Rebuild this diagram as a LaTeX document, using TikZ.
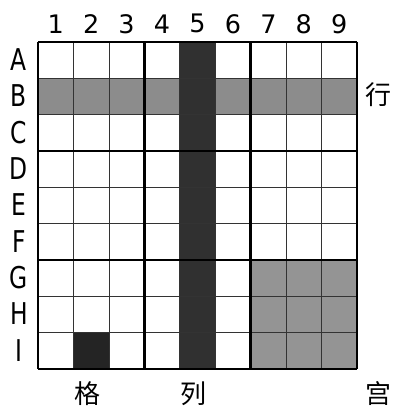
\documentclass[tikz,border=0pt]{standalone}
\usepackage{graphicx}
\usepackage{fontspec}
\setmainfont{DejaVu Sans}
\newfontfamily\cjk{Noto Sans CJK SC}
\definecolor{rowgray}{gray}{0.55}
\definecolor{boxgray}{gray}{0.58}
\definecolor{colgray}{gray}{0.19}
\definecolor{cellgray}{gray}{0.14}
\newcommand{\narrowletter}[1]{\scalebox{0.78}[1]{#1}}

\begin{document}
\begin{tikzpicture}[x=1pt,y=-1pt]
\useasboundingbox (0,0) rectangle (396,406);
\begin{scope}[shift={(38,42)},x=35.44pt,y=-36.33pt,
  thinline/.style={line width=0.7pt, black!80},
  boxline/.style={line width=2.6pt, black},
  headlabel/.style={inner sep=0pt, font=\fontsize{25.5}{25.5}\selectfont},
  rowlabel/.style={inner sep=0pt, font=\fontsize{30}{30}\selectfont},
  cjklabel/.style={inner sep=0pt, font=\cjk\fontsize{26}{26}\selectfont}]
% shaded regions
\fill[rowgray] (0,1) rectangle (9,2);
\fill[boxgray] (6,6) rectangle (9,9);
\fill[colgray] (4,0) rectangle (5,9);
\fill[cellgray] (1,8) rectangle (2,9);
% thin cell lines
\foreach \i in {1,2,4,5,7,8} {
  \draw[thinline] (\i,0) -- (\i,9);
  \draw[thinline] (0,\i) -- (9,\i);
}
% box lines
\foreach \i in {0,3,6,9} {
  \draw[boxline] (\i,0) -- (\i,9);
  \draw[boxline] (0,\i) -- (9,\i);
}
% column and row headers
\foreach \c in {1,...,9}
  \node[headlabel] (col\c) at (\c-0.5,-0.5) {\c};
\foreach \r [count=\k] in {A,B,C,D,E,F,G,H,I}
  \node[rowlabel] (row\r) at (-0.54,\k-0.52) {\narrowletter{\r}};
% names
\node[cjklabel] (hang) at (9.62,1.45) {行};
\node[cjklabel] (ge) at (1.41,9.68) {格};
\node[cjklabel] (lie) at (4.39,9.68) {列};
\node[cjklabel] (gong) at (9.6,9.68) {宫};
\end{scope}
\end{tikzpicture}
\end{document}
